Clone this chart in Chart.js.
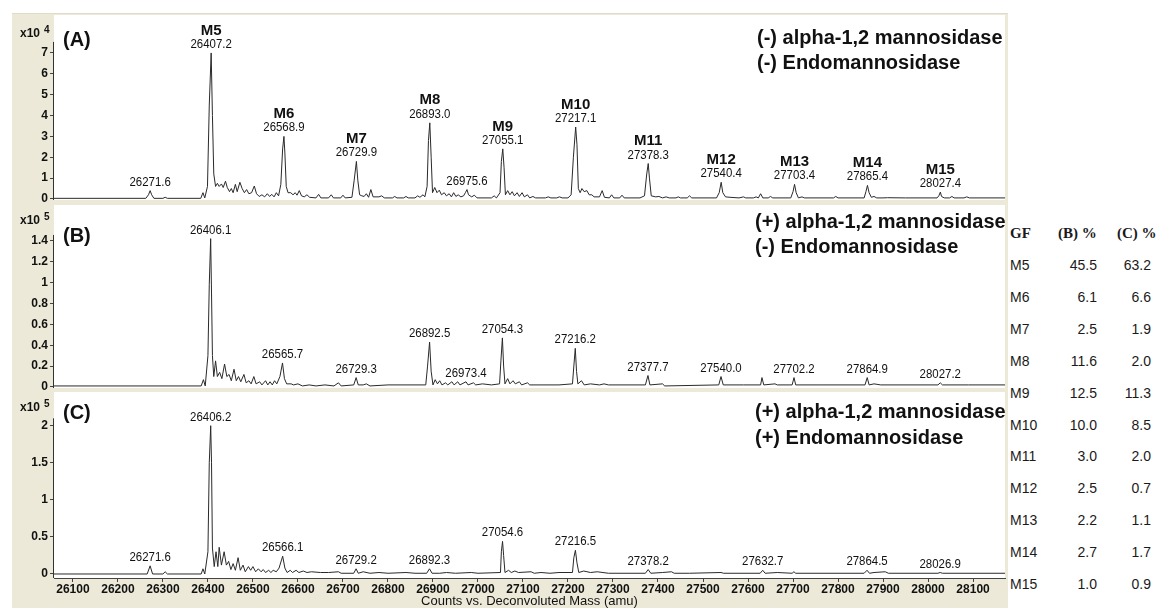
<!DOCTYPE html>
<html>
<head>
<meta charset="utf-8">
<title>Deconvoluted mass spectra</title>
<script src="https://cdn.jsdelivr.net/npm/chart.js@4.4.1/dist/chart.umd.min.js"></script>
<style>
  body { margin: 0; width: 1164px; height: 608px; position: relative; overflow: hidden; background: #fff; font-family: "Liberation Sans", Arial, sans-serif; }
  #frame { position: absolute; left: 12px; top: 13px; width: 996px; height: 595px; background: #ece9d8; border-top: 1px solid #dedbc9; box-sizing: border-box; }
  canvas { position: absolute; left: 12px; }
  .cell { position: absolute; height: 20px; line-height: 20px; font-size: 14px; color: #1a1a1a; white-space: nowrap; }
  .hd { font-family: "Liberation Serif", "Times New Roman", serif; font-weight: bold; font-size: 15px; }
</style>
</head>
<body>
<div id="frame"></div>
<canvas id="chartA" width="996" height="190" style="top:13px"></canvas>
<canvas id="chartB" width="996" height="187" style="top:203px"></canvas>
<canvas id="chartC" width="996" height="218" style="top:390px"></canvas>
<div id="table"></div>
<script>
// spectra: [mass (amu), counts]
// panel A counts x10^4, panels B and C x10^5
const traceA = [
  [26058,0.03],[26262,0.03],[26268,0.2],[26271.6,0.4],[26275,0.2],[26280,0.03],[26300,0.03],[26305,0.08],[26310,0.03],
  [26384,0.03],[26389,0.3],[26393,0.05],[26399,0.6],[26403,4.5],[26407.2,7.0],[26410,4.0],[26413,1.2],[26417,0.6],
  [26421,0.75],[26425,0.6],[26430,0.72],[26434,0.55],[26439,0.85],[26443,0.55],[26448,0.35],[26452,0.5],[26456,0.3],
  [26461,0.7],[26465,0.35],[26471,0.8],[26476,0.5],[26481,0.3],[26486,0.45],[26491,0.25],[26497,0.3],[26503,0.62],
  [26508,0.25],[26514,0.12],[26520,0.2],[26526,0.1],[26532,0.25],[26537,0.12],[26542,0.22],[26547,0.1],[26552,0.3],
  [26557,0.15],[26562,0.7],[26566,2.4],[26568.9,3.0],[26571,2.2],[26574,0.6],[26578,0.3],[26584,0.3],[26589,0.2],
  [26594,0.3],[26598,0.18],[26603,0.4],[26608,0.15],[26614,0.1],[26620,0.2],[26626,0.08],[26640,0.05],[26646,0.22],
  [26651,0.05],[26668,0.05],[26674,0.2],[26679,0.05],[26695,0.05],[26700,0.18],[26705,0.05],[26720,0.08],[26725,0.9],
  [26729.9,1.8],[26733,0.9],[26737,0.2],[26742,0.15],[26747,0.12],[26752,0.25],[26757,0.08],[26762,0.45],[26767,0.1],
  [26780,0.1],[26786,0.15],[26792,0.05],[26810,0.05],[26815,0.12],[26820,0.05],[26835,0.05],[26840,0.12],[26845,0.05],
  [26860,0.05],[26866,0.15],[26871,0.08],[26878,0.2],[26882,0.1],[26887,0.6],[26890,2.8],[26893.0,3.65],[26896,2.0],
  [26899,0.3],[26904,0.55],[26909,0.3],[26914,0.42],[26919,0.2],[26925,0.3],[26930,0.15],[26936,0.25],[26941,0.1],
  [26946,0.3],[26951,0.12],[26956,0.2],[26962,0.1],[26968,0.15],[26972,0.3],[26975.6,0.45],[26979,0.2],[26986,0.1],
  [26992,0.18],[26998,0.05],[27030,0.05],[27036,0.15],[27041,0.05],[27049,0.3],[27052,1.8],[27055.1,2.4],[27058,1.5],
  [27061,0.2],[27066,0.4],[27071,0.2],[27076,0.35],[27081,0.15],[27087,0.3],[27092,0.12],[27098,0.3],[27103,0.1],
  [27110,0.2],[27115,0.05],[27122,0.12],[27128,0.05],[27150,0.05],[27156,0.1],[27162,0.05],[27175,0.05],[27181,0.1],
  [27187,0.05],[27200,0.05],[27207,0.2],[27212,2.0],[27217.1,3.45],[27220,2.6],[27223,0.5],[27227,0.3],[27231,0.5],
  [27236,0.35],[27242,0.4],[27247,0.2],[27253,0.2],[27258,0.1],[27270,0.1],[27276,0.4],[27281,0.08],[27292,0.05],
  [27297,0.2],[27302,0.05],[27315,0.05],[27320,0.18],[27325,0.05],[27360,0.05],[27370,0.15],[27375,1.2],[27378.3,1.7],
  [27381,1.0],[27385,0.15],[27395,0.1],[27402,0.12],[27410,0.05],[27418,0.1],[27425,0.05],[27440,0.05],[27445,0.1],
  [27450,0.05],[27465,0.05],[27470,0.15],[27475,0.05],[27530,0.05],[27536,0.3],[27540.4,0.8],[27544,0.3],[27550,0.1],
  [27560,0.08],[27580,0.05],[27590,0.1],[27595,0.05],[27612,0.05],[27618,0.1],[27623,0.05],[27628,0.25],[27633,0.05],
  [27645,0.05],[27650,0.12],[27655,0.05],[27695,0.05],[27700,0.35],[27703.4,0.7],[27707,0.3],[27712,0.05],[27720,0.1],
  [27725,0.05],[27790,0.05],[27795,0.12],[27800,0.05],[27858,0.05],[27862,0.35],[27865.4,0.65],[27869,0.3],[27874,0.08],
  [27880,0.12],[27886,0.05],[27900,0.05],[27910,0.06],[27950,0.05],[28020,0.05],[28024,0.15],[28027.4,0.33],[28030,0.12],
  [28036,0.05],[28048,0.05],[28053,0.12],[28058,0.05],[28080,0.05],[28086,0.1],[28092,0.05],[28171,0.05]
];
const traceB = [
  [26058,0.01],[26385,0.01],[26390,0.07],[26394,0.01],[26400,0.3],[26403,0.98],[26406.1,1.42],[26408,0.9],[26410,0.3],
  [26413,0.1],[26417,0.25],[26421,0.1],[26426,0.14],[26431,0.08],[26437,0.22],[26442,0.1],[26447,0.12],[26452,0.06],
  [26458,0.17],[26463,0.06],[26468,0.1],[26473,0.05],[26480,0.12],[26485,0.04],[26491,0.06],[26496,0.03],[26502,0.1],
  [26507,0.03],[26515,0.05],[26520,0.02],[26528,0.06],[26533,0.02],[26538,0.05],[26543,0.02],[26548,0.06],[26553,0.03],
  [26560,0.1],[26565.7,0.23],[26570,0.08],[26575,0.03],[26585,0.03],[26590,0.02],[26600,0.03],[26610,0.01],[26625,0.02],
  [26640,0.01],[26660,0.02],[26680,0.01],[26690,0.04],[26696,0.01],[26724,0.02],[26729.3,0.09],[26734,0.02],[26745,0.02],
  [26752,0.03],[26760,0.01],[26800,0.02],[26840,0.02],[26884,0.02],[26888,0.2],[26892.5,0.43],[26896,0.15],[26900,0.02],
  [26905,0.07],[26910,0.03],[26915,0.06],[26920,0.02],[26928,0.04],[26933,0.02],[26942,0.05],[26947,0.02],[26955,0.05],
  [26960,0.02],[26973.4,0.05],[26978,0.02],[26990,0.04],[26995,0.02],[27010,0.03],[27030,0.02],[27048,0.03],[27051,0.25],
  [27054.3,0.47],[27057,0.2],[27060,0.03],[27066,0.08],[27071,0.03],[27078,0.06],[27083,0.03],[27092,0.05],[27097,0.02],
  [27110,0.04],[27115,0.02],[27140,0.02],[27180,0.02],[27210,0.03],[27213,0.2],[27216.2,0.37],[27219,0.15],[27222,0.03],
  [27230,0.06],[27236,0.02],[27250,0.03],[27270,0.02],[27280,0.03],[27290,0.02],[27372,0.02],[27377.7,0.11],[27382,0.02],
  [27410,0.03],[27415,0.01],[27535,0.02],[27540.0,0.1],[27545,0.02],[27590,0.02],[27628,0.02],[27631,0.09],[27635,0.02],
  [27660,0.03],[27665,0.02],[27698,0.02],[27702.2,0.09],[27706,0.02],[27760,0.02],[27860,0.02],[27864.9,0.09],[27869,0.02],
  [27880,0.03],[27895,0.02],[28022,0.02],[28027.2,0.04],[28032,0.02],[28090,0.02],[28171,0.02]
];
const traceC = [
  [26058,0],[26265,0],[26271.6,0.11],[26277,0],[26300,0],[26305,0.03],[26310,0],[26385,0],[26389,0.07],[26393,0],
  [26400,0.3],[26403,1.5],[26406.2,2.0],[26408,1.5],[26410,0.35],[26414,0.1],[26418,0.3],[26422,0.1],[26425,0.36],
  [26430,0.12],[26436,0.3],[26441,0.12],[26446,0.17],[26451,0.06],[26456,0.14],[26461,0.05],[26467,0.22],[26472,0.05],
  [26478,0.12],[26483,0.03],[26490,0.1],[26495,0.05],[26500,0.1],[26506,0.03],[26512,0.07],[26518,0.03],[26523,0.06],
  [26528,0.02],[26535,0.05],[26540,0.02],[26545,0.05],[26552,0.03],[26558,0.08],[26566.1,0.24],[26571,0.08],[26576,0.02],
  [26583,0.05],[26588,0.02],[26596,0.05],[26602,0.02],[26612,0.04],[26620,0.02],[26630,0.03],[26650,0.02],[26668,0.02],
  [26690,0.03],[26696,0.01],[26724,0.01],[26729.2,0.07],[26734,0.01],[26745,0.03],[26760,0.01],[26780,0.02],[26800,0.01],
  [26840,0.02],[26860,0.01],[26886,0.01],[26892.3,0.07],[26898,0.01],[26915,0.01],[26930,0.02],[26950,0.01],[26985,0.02],
  [27000,0.01],[27050,0.02],[27052,0.3],[27054.6,0.44],[27057,0.25],[27060,0.02],[27068,0.05],[27074,0.02],[27082,0.04],
  [27090,0.02],[27118,0.03],[27125,0.01],[27140,0.02],[27160,0.01],[27180,0.02],[27210,0.02],[27213,0.22],[27216.5,0.32],
  [27220,0.15],[27224,0.02],[27235,0.04],[27250,0.02],[27265,0.03],[27290,0.01],[27372,0.01],[27378.2,0.06],[27384,0.01],
  [27410,0.02],[27430,0.03],[27436,0.01],[27470,0.01],[27540,0.02],[27546,0.01],[27627,0.01],[27632.7,0.05],[27638,0.01],
  [27665,0.02],[27698,0.01],[27702,0.03],[27706,0.01],[27858,0.01],[27864.5,0.05],[27870,0.01],[27880,0.02],[27905,0.03],
  [27912,0.01],[28022,0.01],[28026.9,0.02],[28032,0.01],[28171,0.01]
];

// labelled peaks
const peaksA = [26271.6, 26407.2, 26568.9, 26729.9, 26893.0, 26975.6, 27055.1, 27217.1, 27378.3, 27540.4, 27703.4, 27865.4, 28027.4];
const namesA = ["", "M5", "M6", "M7", "M8", "", "M9", "M10", "M11", "M12", "M13", "M14", "M15"];
const peaksB = [26406.1, 26565.7, 26729.3, 26892.5, 26973.4, 27054.3, 27216.2, 27377.7, 27540.0, 27702.2, 27864.9, 28027.2];
const peaksC = [26271.6, 26406.2, 26566.1, 26729.2, 26892.3, 27054.6, 27216.5, 27378.2, 27632.7, 27864.5, 28026.9];

// axis ticks
const xTicks = [26100, 26200, 26300, 26400, 26500, 26600, 26700, 26800, 26900, 27000, 27100,
                27200, 27300, 27400, 27500, 27600, 27700, 27800, 27900, 28000, 28100];
const yTicksA = [0, 1, 2, 3, 4, 5, 6, 7];
const yTicksB = [0, 0.2, 0.4, 0.6, 0.8, 1, 1.2, 1.4];
const yTicksC = [0, 0.5, 1, 1.5, 2];

// relative abundance table
const glycoforms = ["M5", "M6", "M7", "M8", "M9", "M10", "M11", "M12", "M13", "M14", "M15"];
const pctB = ["45.5", "6.1", "2.5", "11.6", "12.5", "10.0", "3.0", "2.5", "2.2", "2.7", "1.0"];
const pctC = ["63.2", "6.6", "1.9", "2.0", "11.3", "8.5", "2.0", "0.7", "1.1", "1.7", "0.9"];

const SANS = "'Liberation Sans', Arial, sans-serif";

// narrow text drawn by squeezing a normal face
const squeezeText = (ctx, text, x, y, font, sx) => {
  ctx.save();
  ctx.translate(x, y);
  ctx.scale(sx, 1);
  ctx.font = font;
  ctx.fillText(text, 0, 0);
  ctx.restore();
};

const panelDecor = {
  id: "panelDecor",
  beforeDraw(chart) {
    const { ctx, chartArea: a } = chart;
    ctx.save();
    ctx.fillStyle = "#ffffff";
    ctx.fillRect(a.left, a.top, a.right - a.left, a.bottom - a.top);
    ctx.restore();
  },
  afterDraw(chart, args, o) {
    const { ctx, chartArea: a } = chart;
    const ys = chart.scales.y;
    const xs = chart.scales.x;
    const data = chart.data.datasets[0].data;
    ctx.save();
    // y axis line only up to the last tick region
    ctx.strokeStyle = "#333";
    ctx.lineWidth = 1;
    ctx.beginPath();
    ctx.moveTo(a.left - 0.5, a.bottom);
    ctx.lineTo(a.left - 0.5, ys.getPixelForValue(o.axisTop));
    ctx.stroke();

    ctx.fillStyle = "#111";
    ctx.textBaseline = "middle";
    ctx.textAlign = "left";
    // exponent label
    ctx.font = "bold 12px " + SANS;
    ctx.fillText("x10", 8, o.expY - o.top);
    ctx.font = "bold 10px " + SANS;
    ctx.fillText(o.exp, 32, o.expY - o.top - 4);
    // panel tag and conditions
    ctx.font = "bold 20px " + SANS;
    ctx.fillText(o.tag, 51, o.tagY - o.top);
    o.cond.forEach((s, i) => ctx.fillText(s, o.condX - 12, o.condY[i] - o.top));

    // peak labels, placed just above each peak top
    ctx.textAlign = "center";
    o.peaks.forEach((m, i) => {
      let h = 0;
      data.forEach(p => { if (Math.abs(p.x - m) <= 3 && p.y > h) h = p.y; });
      const px = xs.getPixelForValue(m);
      const py = ys.getPixelForValue(h);
      squeezeText(ctx, m.toFixed(1), px, py - 8.5, "13px " + SANS, 0.88);
      if (o.names && o.names[i]) {
        ctx.font = "bold 15px " + SANS;
        ctx.fillText(o.names[i], px, py - 22.5);
      }
    });
    ctx.restore();
  }
};

const makePanel = (id, trace, yTicks, y, decor, pad, showX) => {
  return new Chart(document.getElementById(id), {
    type: "line",
    data: {
      datasets: [{
        data: trace.map(p => ({ x: p[0], y: p[1] })),
        borderColor: "#2a2a2a",
        borderWidth: 1,
        pointRadius: 0,
        tension: 0,
        fill: false
      }]
    },
    options: {
      responsive: false,
      animation: false,
      events: [],
      layout: { padding: pad },
      plugins: {
        legend: { display: false },
        tooltip: { enabled: false },
        panelDecor: decor
      },
      scales: {
        x: {
          type: "linear",
          display: showX,
          min: 26058,
          max: 28171,
          afterBuildTicks: s => { s.ticks = xTicks.map(v => ({ value: v })); },
          afterFit: s => {
            s.height = showX ? 30 : 0;
            s.paddingLeft = 0;
            s.paddingRight = 0;
          },
          border: { display: true, color: "#444" },
          grid: { drawOnChartArea: false, drawTicks: true, tickLength: 4, color: "#444" },
          ticks: {
            maxRotation: 0,
            autoSkip: false,
            padding: 0,
            color: "#111",
            font: { family: SANS, size: 12, weight: "bold", lineHeight: 1.2 },
            callback: v => String(v)
          },
          title: {
            display: true,
            text: "Counts vs. Deconvoluted Mass (amu)",
            color: "#111",
            padding: 0,
            font: { family: SANS, size: 13, lineHeight: 1 }
          }
        },
        y: {
          min: y.min,
          max: y.max,
          afterBuildTicks: s => { s.ticks = yTicks.map(v => ({ value: v })); },
          afterFit: s => {
            s.width = 42;
            s.paddingTop = 0;
            s.paddingBottom = 0;
          },
          border: { display: false },
          grid: { drawOnChartArea: false, drawTicks: true, tickLength: 4, color: "#444" },
          ticks: {
            padding: 2,
            color: "#111",
            font: { family: SANS, size: 12, weight: "bold" },
            callback: v => String(v)
          }
        }
      }
    },
    plugins: [panelDecor]
  });
};

makePanel("chartA", traceA, yTicksA, { min: -0.05, max: 8.82 }, {
  top: 13, axisTop: 7.53, exp: "4", expY: 34, tag: "(A)", tagY: 40,
  cond: ["(-) alpha-1,2 mannosidase", "(-) Endomannosidase"], condX: 757, condY: [38, 63],
  peaks: peaksA, names: namesA
}, { left: 0, right: 3, top: 2, bottom: 3 }, false);

makePanel("chartB", traceB, yTicksB, { min: -0.0096, max: 1.742 }, {
  top: 203, axisTop: 1.455, exp: "5", expY: 221, tag: "(B)", tagY: 236,
  cond: ["(+) alpha-1,2 mannosidase", "(-) Endomannosidase"], condX: 755, condY: [222, 247],
  peaks: peaksB
}, { left: 0, right: 3, top: 2, bottom: 2 }, false);

makePanel("chartC", traceC, yTicksC, { min: -0.054, max: 2.4545 }, {
  top: 390, axisTop: 2.1, exp: "5", expY: 408, tag: "(C)", tagY: 413,
  cond: ["(+) alpha-1,2 mannosidase", "(+) Endomannosidase"], condX: 755, condY: [412, 438],
  peaks: peaksC
}, { left: 0, right: 3, top: 2, bottom: 0 }, true);

// table on the right
const table = document.getElementById("table");
const addCell = (text, cls, style) => {
  const d = document.createElement("div");
  d.className = "cell " + cls;
  d.textContent = text;
  Object.assign(d.style, style);
  table.appendChild(d);
};
addCell("GF", "hd", { left: "1010px", top: "223px" });
addCell("(B) %", "hd", { left: "1058px", top: "223px" });
addCell("(C) %", "hd", { left: "1117px", top: "223px" });
glycoforms.forEach((g, i) => {
  const top = (265 + i * 31.9 - 10) + "px";
  addCell(g, "", { left: "1010px", top });
  addCell(pctB[i], "", { right: (1164 - 1097) + "px", top });
  addCell(pctC[i], "", { right: (1164 - 1151) + "px", top });
});
</script>
</body>
</html>
